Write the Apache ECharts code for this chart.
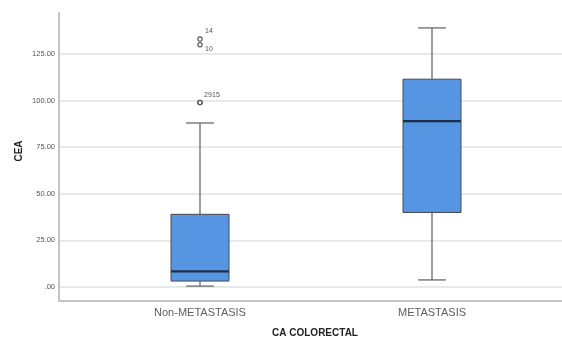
<!DOCTYPE html>
<html><head><meta charset="utf-8">
<script src="https://cdn.jsdelivr.net/npm/echarts@6/dist/echarts.min.js"></script>
<style>html,body{margin:0;padding:0;background:#fff}#c{width:562px;height:338px}</style>
</head><body><div id="c"></div>
<script>
var categories = ['Non-METASTASIS', 'METASTASIS'];
// [whisker low, Q1, median, Q3, whisker high]
var boxStats = [
  [0.5, 3.2, 8.4, 39, 88],
  [3.8, 40, 89, 111.5, 139]
];
var outlierValues = [133, 130, 99, 99];
var outlierCats = [0, 0, 0, 0];
var outlierLabels = ['14', '10', '29', '15'];
var yTicks = [0, 25, 50, 75, 100, 125];
var yMin = -7.5, yMax = 147;

var boxData = boxStats.map(function (s, i) { return [i].concat(s); });
var outData = outlierValues.map(function (v, i) { return { value: [outlierCats[i], v], name: outlierLabels[i] }; });
var labelPos = [[5, -8], [5, 4], [4, -7], [12, -7]];

var chart = echarts.init(document.getElementById('c'), null, { renderer: 'canvas' });
var font = 'Liberation Sans, Arial, sans-serif';
chart.setOption({
  animation: false,
  grid: [
    { left: 59, right: 0, top: 13, bottom: 37 },
    { left: 84, right: 14, top: 13, bottom: 37 }
  ],
  xAxis: [
    { gridIndex: 0, type: 'category', data: categories, axisLine: { onZero: false, lineStyle: { color: '#c4c4c4', width: 2 } }, axisTick: { show: false }, axisLabel: { show: false } },
    { gridIndex: 1, type: 'category', data: categories, axisLine: { show: false, onZero: false }, axisTick: { show: false },
      axisLabel: { color: '#606060', fontSize: 11, fontFamily: font, margin: 6 } }
  ],
  yAxis: [
    { gridIndex: 0, type: 'value', min: yMin, max: yMax,
      axisLine: { show: true, lineStyle: { color: '#c4c4c4', width: 2 } },
      axisTick: { show: false, customValues: yTicks },
      axisLabel: { customValues: yTicks, color: '#555', fontSize: 7.5, fontFamily: font, margin: 4,
        formatter: function (v) { return v === 0 ? '.00' : v.toFixed(2); } },
      splitLine: { show: true, lineStyle: { color: '#e2e2e2', width: 1.5 } } },
    { gridIndex: 1, type: 'value', min: yMin, max: yMax, show: false, splitLine: { show: false } }
  ],
  graphic: [
    { type: 'text', rotation: Math.PI / 2, x: 19, y: 151, style: { text: 'CEA', font: 'bold 10px ' + font, fill: '#222', align: 'center', verticalAlign: 'middle' } },
    { type: 'text', style: { text: 'CA COLORECTAL', font: 'bold 10px ' + font, fill: '#222', align: 'center', verticalAlign: 'middle', x: 315, y: 333 } }
  ],
  series: [
    {
      type: 'custom', xAxisIndex: 1, yAxisIndex: 1, data: boxData,
      encode: { x: 0, y: [1, 2, 3, 4, 5] },
      renderItem: function (params, api) {
        var c = api.value(0);
        var band = api.size([1, 0])[0];
        var bw = band * 0.25, cw = band * 0.12;
        var pLo = api.coord([c, api.value(1)]);
        var pQ1 = api.coord([c, api.value(2)]);
        var pMd = api.coord([c, api.value(3)]);
        var pQ3 = api.coord([c, api.value(4)]);
        var pHi = api.coord([c, api.value(5)]);
        var x = pLo[0];
        var wStyle = { stroke: '#6a6a6a', lineWidth: 1.3 };
        return {
          type: 'group',
          children: [
            { type: 'line', shape: { x1: x, y1: pHi[1], x2: x, y2: pQ3[1] }, style: wStyle },
            { type: 'line', shape: { x1: x, y1: pQ1[1], x2: x, y2: pLo[1] }, style: wStyle },
            { type: 'line', shape: { x1: x - cw / 2, y1: pHi[1], x2: x + cw / 2, y2: pHi[1] }, style: wStyle },
            { type: 'line', shape: { x1: x - cw / 2, y1: pLo[1], x2: x + cw / 2, y2: pLo[1] }, style: wStyle },
            { type: 'rect', shape: { x: x - bw / 2, y: pQ3[1], width: bw, height: pQ1[1] - pQ3[1] },
              style: { fill: '#5595e2', stroke: '#4a4a4a', lineWidth: 1 } },
            { type: 'line', shape: { x1: x - bw / 2, y1: pMd[1], x2: x + bw / 2, y2: pMd[1] },
              style: { stroke: '#1c2e4a', lineWidth: 2.2 } }
          ]
        };
      }
    },
    {
      type: 'custom', xAxisIndex: 1, yAxisIndex: 1, data: outData,
      renderItem: function (params, api) {
        var p = api.coord([api.value(0), api.value(1)]);
        var off = labelPos[params.dataIndex];
        return {
          type: 'group',
          children: [
            { type: 'circle', shape: { cx: p[0], cy: p[1], r: 2.2 }, style: { fill: 'none', stroke: '#555', lineWidth: 1.1 } },
            { type: 'text', style: { text: outlierLabels[params.dataIndex], x: p[0] + off[0], y: p[1] + off[1],
              font: '7px ' + font, fill: '#555', align: 'left', verticalAlign: 'middle' } }
          ]
        };
      }
    }
  ]
});
</script></body></html>
